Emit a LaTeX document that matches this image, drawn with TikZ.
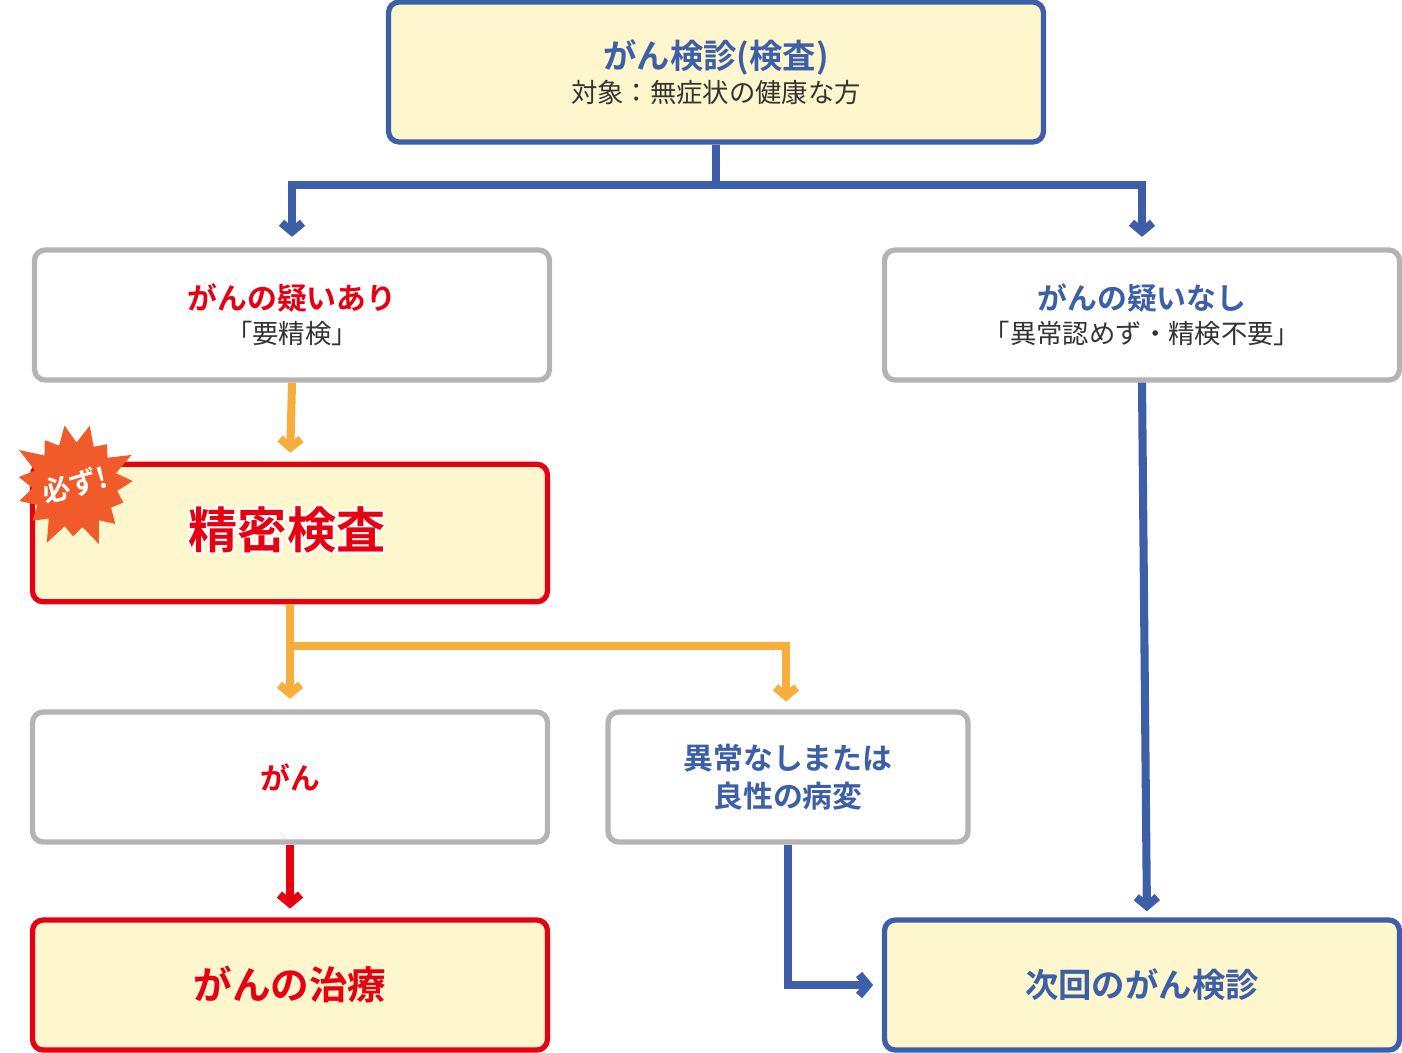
\documentclass[tikz,border=0pt]{standalone}
\usepackage{fontspec}
\setmainfont{Noto Sans CJK JP}
\newfontfamily\jpbold{Noto Sans CJK JP Bold}
\usetikzlibrary{arrows.meta, calc, positioning, shapes.symbols}
\definecolor{kblue}{HTML}{3C5FA8}
\definecolor{kred}{HTML}{E60012}
\definecolor{korange}{HTML}{F8AE3C}
\definecolor{kgray}{HTML}{B4B4B4}
\definecolor{kcream}{HTML}{FEF6CC}
\definecolor{kburst}{HTML}{F15A29}
\definecolor{ktext}{HTML}{333333}

\begin{document}
\begin{tikzpicture}[x=0.02cm, y=-0.02cm,
  box/.style={draw=kgray, line width=3pt, fill=white, rounded corners=6pt, minimum width=10.3cm, minimum height=2.6cm, align=center, inner sep=0pt},
  keybox/.style={box, fill=kcream},
  bline/.style={line width=4.6pt, kblue},
  oline/.style={line width=4.6pt, korange},
  rline/.style={line width=4.6pt, kred},
  tip/.style={-{Straight Barb[length=5pt, width=12pt]}}]
  \useasboundingbox (0,0) rectangle (1402,1052);

  \node[keybox, draw=kblue, minimum width=13.1cm, minimum height=2.8cm] (kenshin) at (716,72)
    {{\jpbold\fontsize{19}{22}\selectfont\color{kblue}がん検診(検査)}\\[2pt]
     {\fontsize{15}{18}\selectfont\color{ktext}対象：無症状の健康な方}};
  \node[box] (ari) at (292,315)
    {{\jpbold\fontsize{17}{20}\selectfont\color{kred}がんの疑いあり}\\[4pt]
     {\fontsize{15}{18}\selectfont\color{ktext}「要精検」}};
  \node[box] (nashi) at (1142,315)
    {{\jpbold\fontsize{17}{20}\selectfont\color{kblue}がんの疑いなし}\\[4pt]
     {\fontsize{15}{18}\selectfont\color{ktext}「異常認めず・精検不要」}};
  \node[keybox, draw=kred, minimum height=2.75cm] (seimitsu) at (290,533) {};
  \foreach \a in {0,30,...,330}
    \node[text=white, font=\jpbold\fontsize{28}{32}\selectfont] at ($(287,530)+(\a:2.2)$) {精密検査};
  \node[text=kred, font=\jpbold\fontsize{28}{32}\selectfont] (seimitsutxt) at (287,530) {精密検査};
  \node[starburst, starburst points=15, starburst point height=0.5cm, fill=kburst, minimum width=2.7cm, minimum height=2.7cm, rotate=10] (kanarazu) at (75,485) {};
  \node[text=white, rotate=15, font=\jpbold\fontsize{16}{18}\selectfont] at (kanarazu.center) {必ず!};
  \node[box, text=kred, font=\jpbold\fontsize{17}{20}\selectfont] (gan) at (290,777) {がん};
  \node[box, minimum width=7.2cm, text=kblue, font=\jpbold\fontsize{17}{22}\selectfont] (ijou) at (788,777)
    {異常なしまたは\\良性の病変};
  \node[keybox, draw=kred, text=kred, font=\jpbold\fontsize{22}{26}\selectfont] (chiryou) at (290,985) {がんの治療};
  \node[keybox, draw=kblue, text=kblue, font=\jpbold\fontsize{19}{22}\selectfont] (jikai) at (1142,985) {次回のがん検診};

  \coordinate (bsplit) at (716,185);
  \draw[bline] (kenshin.south) -- (bsplit);
  \draw[bline, tip, shorten >=6pt] (bsplit) -| (nashi.north);
  \draw[bline, tip, shorten >=6pt] (bsplit) -| (ari.north);
  \draw[bline, tip, shorten >=5pt] (nashi.south) -- (1147,920);
  \draw[bline, tip, shorten >=5pt] (ijou.south) |- (jikai.west);
  \draw[oline, tip, shorten >=5pt] (ari.south) -- (seimitsu.north);
  \coordinate (osplit) at (290,646);
  \draw[oline] (seimitsu.south) -- (osplit);
  \draw[oline, tip, shorten >=6pt] (osplit) -- (gan.north);
  \draw[oline, tip, shorten >=6pt] (osplit) -| (786,712);
  \draw[rline, tip, shorten >=5pt] (gan.south) -- (chiryou.north);
\end{tikzpicture}
\end{document}
